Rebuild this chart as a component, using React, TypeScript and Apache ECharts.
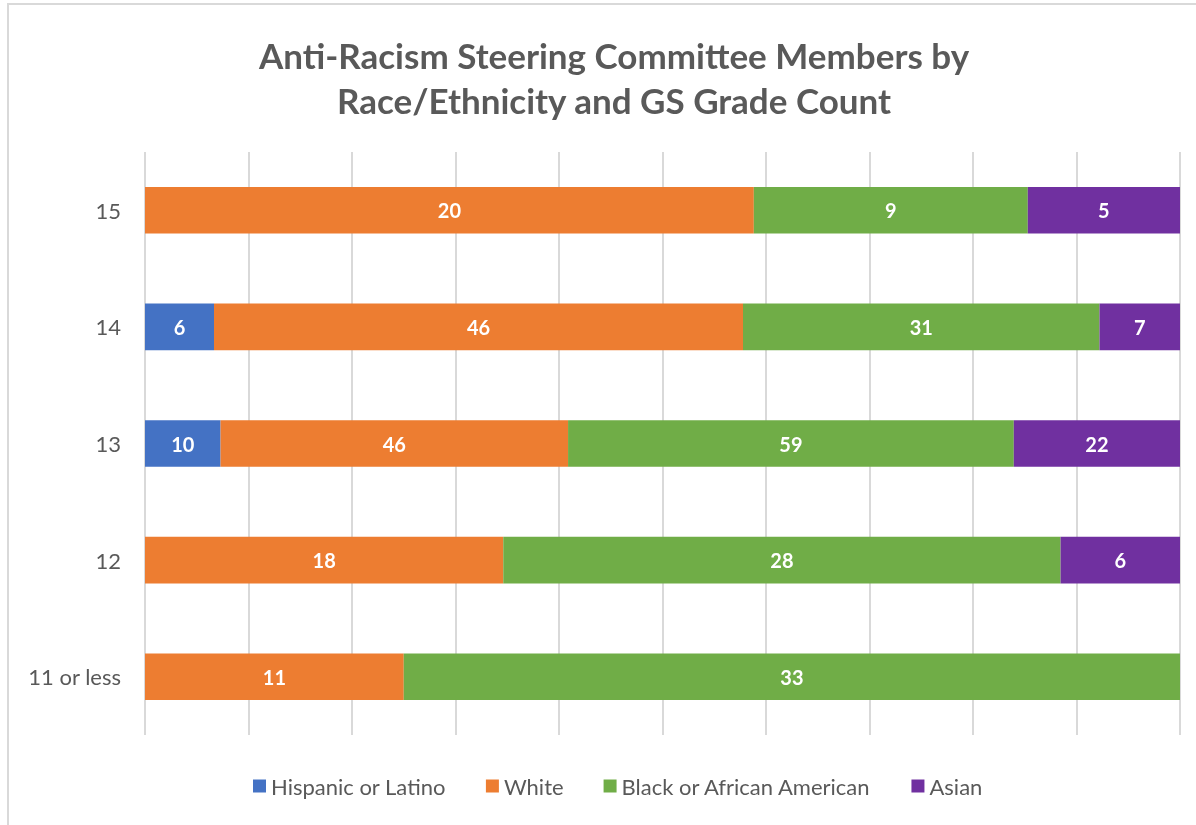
import React, { useEffect, useRef } from "react";
import * as echarts from "echarts";

const categories = ["11 or less", "12", "13", "14", "15"];
const hispanic = [0, 0, 10, 6, 0];
const white = [11, 18, 46, 46, 20];
const black = [33, 28, 59, 31, 9];
const asian = [0, 6, 22, 7, 5];
const seriesNames = ["Hispanic or Latino", "White", "Black or African American", "Asian"];
const seriesColors = ["#4472c4", "#ed7d31", "#70ad47", "#7030a0"];

export default function App() {
  const ref = useRef<HTMLDivElement>(null);
  useEffect(() => {
    if (!ref.current) return;
    const chart = echarts.init(ref.current, null, { renderer: "svg" });
    const all = [hispanic, white, black, asian];
    const totals = categories.map((_, i) => all.reduce((s, a) => s + a[i], 0));
    const font = "Lato, 'Open Sans', sans-serif";
    const series = all.map((arr, si) => ({
      name: seriesNames[si],
      type: "bar",
      stack: "total",
      barWidth: "40%",
      itemStyle: { color: seriesColors[si] },
      label: {
        show: true,
        position: "inside",
        color: "#fff",
        fontWeight: "bold",
        fontSize: 20,
        fontFamily: font,
        formatter: (p: any) => (arr[p.dataIndex] ? String(arr[p.dataIndex]) : ""),
      },
      data: arr.map((v, i) => (v / totals[i]) * 100),
    }));
    chart.setOption({
      animation: false,
      title: {
        text: "Anti-Racism Steering Committee Members by\nRace/Ethnicity and GS Grade Count",
        left: 609,
        textAlign: "center",
        top: 27,
        textStyle: { fontFamily: font, fontSize: 35, fontWeight: "bold", color: "#595959", lineHeight: 45 },
      },
      legend: {
        top: 770,
        left: 248,
        itemWidth: 13,
        itemHeight: 13,
        itemGap: 40,
        icon: "rect",
        textStyle: { fontFamily: font, fontSize: 22, color: "#595959" },
        data: seriesNames,
      },
      grid: { left: 145, right: 16, top: 152, bottom: 90 },
      xAxis: {
        type: "value",
        min: 0,
        max: 100,
        interval: 10,
        axisLabel: { show: false },
        axisLine: { show: false },
        axisTick: { show: false },
        splitLine: { show: true, lineStyle: { color: "#d9d9d9", width: 2 } },
      },
      yAxis: {
        type: "category",
        data: categories,
        axisLine: { show: false },
        axisTick: { show: false },
        axisLabel: { fontFamily: font, fontSize: 22, color: "#595959", margin: 24 },
      },
      graphic: [
        {
          type: "rect",
          shape: { x: 8, y: 4, width: 1200, height: 830 },
          style: { fill: "none", stroke: "#d9d9d9", lineWidth: 2 },
          silent: true,
        },
      ],
      series,
    });
    return () => chart.dispose();
  }, []);
  return <div ref={ref} style={{ position: "fixed", left: 0, top: 0, width: 1196, height: 825 }} />;
}
